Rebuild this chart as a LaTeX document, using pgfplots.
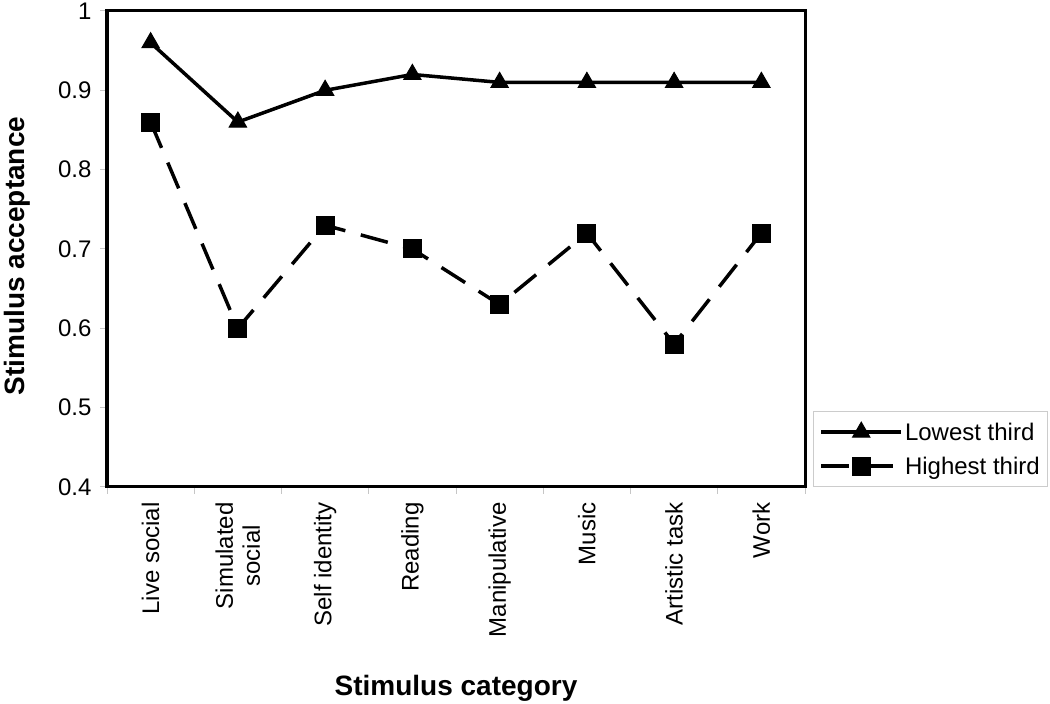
\documentclass[border=0pt]{standalone}
\usepackage{pgfplots}
\pgfplotsset{compat=1.18}
\usepackage{fontspec}
\setmainfont{Liberation Sans}
\newcommand{\ticksize}{\fontsize{24bp}{27bp}\selectfont}
\newcommand{\labsize}{\fontsize{28bp}{32bp}\selectfont\bfseries}
\begin{document}
\begin{tikzpicture}
\begin{axis}[
  scale only axis,
  width=698bp, height=476bp,
  xmin=-0.5, xmax=7.5, ymin=0.4, ymax=1,
  clip=false,
  axis line style={line width=3bp},
  tick align=outside,
  tick pos=left,
  ytick={0.4,0.5,0.6,0.7,0.8,0.9,1},
  yticklabel style={font=\ticksize, xshift=-5bp, /pgf/number format/fixed, /pgf/number format/precision=1, /pgf/number format/assume math mode=true},
  xtick={0,1,2,3,4,5,6,7},
  xticklabels={Live social, Simulated\\social, Self identity, Reading, Manipulative, Music, Artistic task, Work},
  xticklabel style={font=\ticksize, yshift=-5bp, rotate=90, anchor=east, align=center},
  major x tick style={draw=none},
  minor xtick={-0.5,0.5,1.5,2.5,3.5,4.5,5.5,6.5,7.5},
  minor x tick style={gray!45, line width=1bp},
  major y tick style={gray!45, line width=1bp},
  major tick length=7bp,
  minor tick length=7bp,
  xlabel={Stimulus category},
  ylabel={Stimulus acceptance},
  xlabel style={font=\labsize, at={(axis description cs:0.5,0)}, anchor=base, yshift=-208bp},
  ylabel style={font=\labsize, at={(axis description cs:0,0.5)}, anchor=base, xshift=-7bp, yshift=82bp},
  legend style={at={(1,0)}, anchor=south west, xshift=8bp, draw=gray!40, line width=1bp,
    font=\ticksize, inner xsep=6bp, inner ysep=9bp, row sep=11bp,
    /tikz/every even column/.append style={column sep=2bp}},
  legend cell align=left,
  legend image code/.code={\draw[mark repeat=2,mark phase=2] plot coordinates {(0bp,0bp)(40bp,0bp)(80bp,0bp)};},
]
\addplot[black, line width=3.5bp, mark=triangle*, mark size=10bp, mark options={solid, fill=black, line width=1bp}]
  coordinates {(0,0.96)(1,0.86)(2,0.90)(3,0.92)(4,0.91)(5,0.91)(6,0.91)(7,0.91)};
\addlegendentry{Lowest third}
\addplot[black, line width=3.5bp, dash pattern=on 28bp off 16bp, mark=square*, mark size=9bp, mark options={solid, fill=black, line width=1bp}]
  coordinates {(0,0.86)(1,0.60)(2,0.73)(3,0.70)(4,0.63)(5,0.72)(6,0.58)(7,0.72)};
\addlegendentry{Highest third}
\end{axis}
\pgfresetboundingbox
\path[use as bounding box] ([xshift=-107bp,yshift=-217bp]current axis.south west) rectangle ([xshift=245bp,yshift=11bp]current axis.north east);
\end{tikzpicture}
\end{document}
